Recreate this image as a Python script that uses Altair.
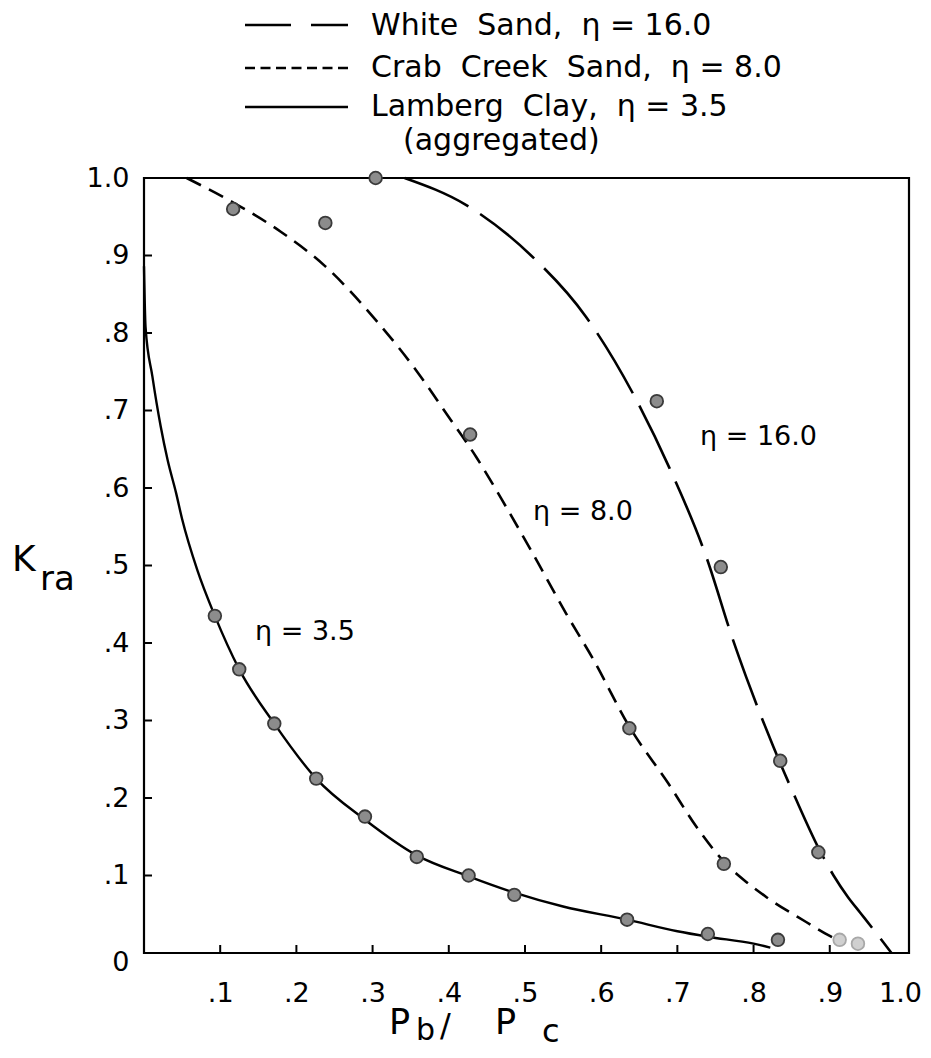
import altair as alt
import pandas as pd

# ---------------- data ----------------
# fitted curves
white_x = [0.342, 0.423, 0.508, 0.58, 0.646, 0.69, 0.738, 0.773, 0.79, 0.826, 0.855, 0.885, 0.905, 0.924, 0.94, 0.96, 0.981]
white_y = [1.0, 0.965, 0.90, 0.821, 0.714, 0.625, 0.511, 0.404, 0.357, 0.266, 0.20, 0.136, 0.10, 0.072, 0.052, 0.027, 0.0]

crab_x = [0.056, 0.116, 0.179, 0.238, 0.304, 0.363, 0.394, 0.436, 0.475, 0.51, 0.554, 0.589, 0.637, 0.688, 0.725, 0.761, 0.79, 0.817, 0.869, 0.9, 0.92]
crab_y = [1.0, 0.969, 0.931, 0.886, 0.817, 0.744, 0.70, 0.64, 0.576, 0.516, 0.438, 0.38, 0.292, 0.219, 0.163, 0.118, 0.092, 0.072, 0.04, 0.022, 0.012]

clay_x = [0.0, 0.002, 0.011, 0.022, 0.031, 0.042, 0.05, 0.07, 0.093, 0.125, 0.171, 0.226, 0.29, 0.358, 0.426, 0.486, 0.55, 0.634, 0.70, 0.74, 0.80, 0.822]
clay_y = [0.886, 0.808, 0.744, 0.679, 0.636, 0.594, 0.56, 0.494, 0.435, 0.366, 0.296, 0.225, 0.172, 0.126, 0.099, 0.078, 0.06, 0.043, 0.028, 0.021, 0.012, 0.007]

# measured points
pt_white_x = [0.304, 0.673, 0.757, 0.835, 0.885, 0.937]
pt_white_y = [1.0, 0.712, 0.498, 0.248, 0.13, 0.012]
pt_crab_x = [0.117, 0.238, 0.428, 0.637, 0.761, 0.913]
pt_crab_y = [0.96, 0.942, 0.669, 0.29, 0.115, 0.017]
pt_clay_x = [0.093, 0.125, 0.171, 0.226, 0.29, 0.358, 0.426, 0.486, 0.634, 0.74, 0.832]
pt_clay_y = [0.435, 0.366, 0.296, 0.225, 0.176, 0.124, 0.1, 0.075, 0.043, 0.0245, 0.017]
pale_points = [(0.913, 0.017), (0.937, 0.012)]

x_ticks = [0.1, 0.2, 0.3, 0.4, 0.5, 0.6, 0.7, 0.8, 0.9, 1.0]
y_ticks = [0.0, 0.1, 0.2, 0.3, 0.4, 0.5, 0.6, 0.7, 0.8, 0.9, 1.0]
inner_x_ticks = [0.1, 0.2, 0.3, 0.4, 0.5, 0.6, 0.7, 0.8, 0.9]
inner_y_ticks = [0.1, 0.2, 0.3, 0.4, 0.5, 0.6, 0.7, 0.8, 0.9]

NB = "\u00a0"
legend_labels = [
    f"White{NB} Sand,{NB} \u03b7 = 16.0",
    f"Crab{NB} Creek{NB} Sand,{NB} \u03b7 = 8.0",
    f"Lamberg{NB} Clay,{NB} \u03b7 = 3.5",
    "(aggregated)",
]
curve_labels = ["\u03b7 = 3.5", "\u03b7 = 8.0", "\u03b7 = 16.0"]

# ---------------- tables ----------------
df_white = pd.DataFrame({"x": white_x, "y": white_y})
df_crab = pd.DataFrame({"x": crab_x, "y": crab_y})
df_clay = pd.DataFrame({"x": clay_x, "y": clay_y})

pts_x = pt_white_x + pt_crab_x + pt_clay_x
pts_y = pt_white_y + pt_crab_y + pt_clay_y
pale = [(round(a, 3), round(b, 3)) in pale_points for a, b in zip(pts_x, pts_y)]
df_pts = pd.DataFrame({"x": pts_x, "y": pts_y, "pale": pale})

df_xt = pd.DataFrame({"x": inner_x_ticks})
df_yt = pd.DataFrame({"y": inner_y_ticks})

FONT = "DejaVu Sans"
WEIGHT = 400
INK = "#000000"
W, H = 765, 775

xs = alt.Scale(domain=[0, 1.004], nice=False, zero=False)
ys = alt.Scale(domain=[0, 1.0], nice=False, zero=False)

lab_expr = "datum.value == 0 ? '0' : (datum.value >= 1 ? '1.0' : replace(format(datum.value, '.1f'), '0.', '.'))"

x_axis = alt.Axis(values=x_ticks, title=None, grid=False, ticks=False, domain=False,
                  labelExpr=lab_expr, labelFont=FONT, labelFontSize=27, labelFontWeight=WEIGHT,
                  labelColor=INK, labelPadding=27, labelFlush=False,
                  labelOffset=alt.condition("datum.value >= 1", alt.value(-6), alt.value(0)))
y_axis = alt.Axis(values=y_ticks, title=None, grid=False, ticks=False, domain=False,
                  labelExpr=lab_expr, labelFont=FONT, labelFontSize=27, labelFontWeight=WEIGHT,
                  labelColor=INK, labelPadding=15, labelFlush=False,
                  labelOffset=alt.condition("datum.value == 0", alt.value(9), alt.value(0)))

line_white = alt.Chart(df_white).mark_line(color=INK, strokeWidth=2.6, strokeDash=[70, 14],
                                           interpolate="monotone").encode(
    x=alt.X("x:Q", scale=xs, axis=x_axis), y=alt.Y("y:Q", scale=ys, axis=y_axis))
line_crab = alt.Chart(df_crab).mark_line(color=INK, strokeWidth=2.6, strokeDash=[16, 9],
                                         interpolate="monotone").encode(
    x=alt.X("x:Q", scale=xs), y=alt.Y("y:Q", scale=ys))
line_clay = alt.Chart(df_clay).mark_line(color=INK, strokeWidth=2.4,
                                         interpolate="monotone").encode(
    x=alt.X("x:Q", scale=xs), y=alt.Y("y:Q", scale=ys))

points = alt.Chart(df_pts).mark_point(filled=True, shape="circle", size=160, strokeWidth=1.8, opacity=1).encode(
    x=alt.X("x:Q", scale=xs), y=alt.Y("y:Q", scale=ys),
    fill=alt.Fill("pale:N", scale=alt.Scale(domain=[False, True], range=["#8c8c8c", "#d0d0d0"]), legend=None),
    stroke=alt.Stroke("pale:N", scale=alt.Scale(domain=[False, True], range=["#3a3a3a", "#a8a8a8"]), legend=None),
)

xt = alt.Chart(df_xt).mark_rule(color=INK, strokeWidth=2).encode(
    x=alt.X("x:Q", scale=xs), y=alt.value(H), y2=alt.value(H - 8))
yt = alt.Chart(df_yt).mark_rule(color=INK, strokeWidth=2).encode(
    y=alt.Y("y:Q", scale=ys), x=alt.value(0), x2=alt.value(8))


def txt(s, x, y, size=27, align="left"):
    return alt.Chart(pd.DataFrame({"t": [s]})).mark_text(
        font=FONT, fontSize=size, fontWeight=WEIGHT, color=INK, align=align, baseline="alphabetic"
    ).encode(text="t:N", x=alt.value(x), y=alt.value(y))


def rule(x1, x2, y, dash=None):
    kw = dict(color=INK, strokeWidth=2.4)
    if dash:
        kw["strokeDash"] = dash
    return alt.Chart(pd.DataFrame({"a": [0]})).mark_rule(**kw).encode(
        x=alt.value(x1), x2=alt.value(x2), y=alt.value(y))


# legend (drawn above the plot)
legend = [
    rule(101, 204, -153, [46, 20]), txt(legend_labels[0], 227, -143, size=30),
    rule(101, 204, -110, [10, 5.5]), txt(legend_labels[1], 227, -101, size=30),
    rule(101, 204, -71), txt(legend_labels[2], 227, -62, size=30),
    txt(legend_labels[3], 259, -28, size=30),
]

# curve labels inside plot
ann = [
    txt(curve_labels[0], 111, 462),
    txt(curve_labels[1], 389, 342),
    txt(curve_labels[2], 556, 267),
]

# axis titles with subscripts
titles = [
    txt("K", -132, 393, size=36),
    txt("ra", -104, 412, size=34),
    txt("P", 245, 856, size=35),
    txt("b", 272, 862, size=30),
    txt("/", 296, 858, size=32),
    txt("P", 351, 856, size=35),
    txt("c", 398, 864, size=32),
]

chart = alt.layer(
    line_white, line_crab, line_clay, xt, yt, points, *legend, *ann, *titles
).properties(
    width=W, height=H,
    padding={"left": 136, "top": 170, "right": 14, "bottom": 97},
    autosize=alt.AutoSizeParams(type="none"),
    background="white",
).configure_view(stroke=INK, strokeWidth=2.2)

chart.save("out.html", embed_options={"renderer": "svg", "actions": False})
